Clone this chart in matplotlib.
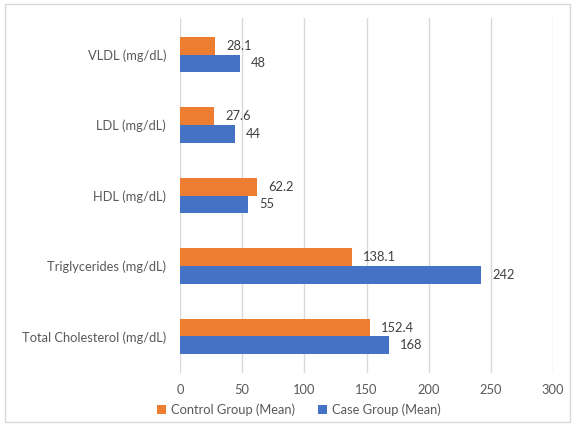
import matplotlib
matplotlib.use("Agg")
import matplotlib.pyplot as plt
import numpy as np
from matplotlib.patches import Rectangle

# data (bottom to top)
categories = ["Total Cholesterol (mg/dL)", "Triglycerides (mg/dL)", "HDL (mg/dL)",
              "LDL (mg/dL)", "VLDL (mg/dL)"]
control_mean = [152.4, 138.1, 62.2, 27.6, 28.1]
case_mean = [168, 242, 55, 44, 48]
control_labels = ["152.4", "138.1", "62.2", "27.6", "28.1"]
case_labels = ["168", "242", "55", "44", "48"]
x_ticks = [0, 50, 100, 150, 200, 250, 300]

plt.rcParams['font.family'] = ['Lato', 'DejaVu Sans']
text_color = '#595959'
fs = 9.3

fig = plt.figure(figsize=(5.75, 4.25), dpi=100)
ax = fig.add_axes([0.313, 0.122, 0.649, 0.836])

y = np.arange(len(categories))
h = 0.255
b_ctrl = ax.barh(y + h / 2, control_mean, height=h, color='#ED7D31', label='Control Group (Mean)')
b_case = ax.barh(y - h / 2, case_mean, height=h, color='#4472C4', label='Case Group (Mean)')

for bars, labels in ((b_ctrl, control_labels), (b_case, case_labels)):
    for bar, lab in zip(bars, labels):
        ax.annotate(lab, (bar.get_width(), bar.get_y() + bar.get_height() / 2),
                    xytext=(8, 0), textcoords='offset points', va='center', ha='left',
                    fontsize=fs, color='#404040')

ax.set_xlim(0, 300)
ax.set_ylim(-0.52, 4.52)
ax.set_xticks(x_ticks)
ax.set_yticks(y)
ax.set_yticklabels(categories)
ax.tick_params(axis='both', length=0, labelsize=fs, colors=text_color)
ax.tick_params(axis='x', pad=8)
ax.tick_params(axis='y', pad=10)
ax.grid(axis='x', color='#D9D9D9', linewidth=1)
ax.set_axisbelow(True)
for s in ax.spines.values():
    s.set_visible(False)

handles = [b_ctrl, b_case]
fig.legend(handles, [hd.get_label() for hd in handles], loc='center', bbox_to_anchor=(0.52, 0.035),
           ncol=2, frameon=False, fontsize=fs, handlelength=0.7, handleheight=0.7,
           columnspacing=1.8, handletextpad=0.4, labelcolor=text_color)

# light frame around the chart
fig.patches.append(Rectangle((0.008, 0.008), 0.984, 0.982, transform=fig.transFigure,
                             fill=False, edgecolor='#D9D9D9', linewidth=1))

fig.savefig('out.png', dpi=100)
